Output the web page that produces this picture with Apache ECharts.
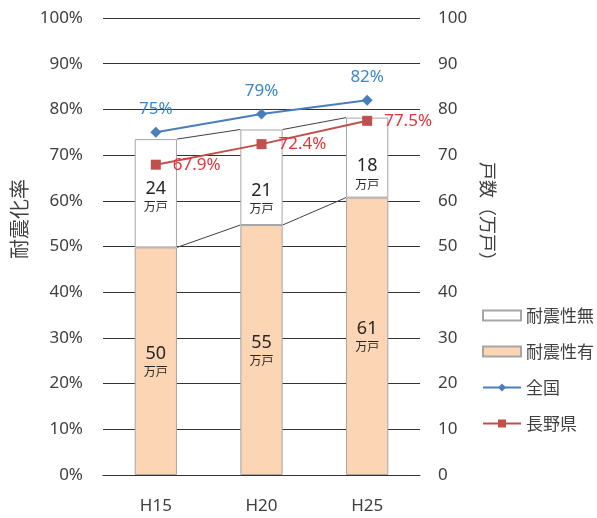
<!DOCTYPE html>
<html>
<head>
<meta charset="utf-8">
<script src="https://cdn.jsdelivr.net/npm/echarts@6/dist/echarts.min.js"></script>
<style>
html,body{margin:0;padding:0;background:#fff;}
#chart{width:597px;height:518px;}
</style>
</head>
<body>
<div id="chart"></div>
<script>
// ---- data ----
const categories = ['H15', 'H20', 'H25'];
const withResistance = [49.8, 54.7, 60.7];      // 耐震性有 (万戸)
const withoutResistance = [23.7, 20.9, 17.5];   // 耐震性無 (万戸)
const nationalRate = [75, 79, 82];              // 全国 (%)
const naganoRate = [67.9, 72.4, 77.5];          // 長野県 (%)
const leftTicks = [0, 10, 20, 30, 40, 50, 60, 70, 80, 90, 100];

const FONT = "'Noto Sans', 'Noto Sans CJK JP', sans-serif";
const TEXT = '#404040';

// cumulative values for the Excel-like series lines between bars
const connectorData = [];
for (let i = 0; i < categories.length - 1; i++) {
  connectorData.push([
    i,
    withResistance[i], withResistance[i + 1],
    withResistance[i] + withoutResistance[i], withResistance[i + 1] + withoutResistance[i + 1]
  ]);
}

const topLabelOffsets = [[0, 3], [0, 21], [0, 16]];

const barLabel = {
  show: true,
  position: 'inside',
  fontFamily: FONT,
  formatter: p => '{n|' + Math.round(p.value) + '}\n{u|万戸}',
  rich: {
    n: { fontSize: 18, color: '#262626', fontFamily: FONT, lineHeight: 21 },
    u: { fontSize: 12, color: '#262626', fontFamily: "'Noto Sans CJK JP', sans-serif", lineHeight: 15 }
  }
};

const chart = echarts.init(document.getElementById('chart'), null, { renderer: 'canvas' });
chart.setOption({
  animation: false,
  backgroundColor: '#fff',
  textStyle: { fontFamily: FONT },
  grid: { left: 103, right: 177, top: 18, bottom: 43 },
  legend: {
    orient: 'vertical',
    left: 477,
    top: 299,
    itemWidth: 38,
    itemHeight: 10,
    itemGap: 13,
    textStyle: { fontSize: 17, color: TEXT, fontFamily: "'Noto Sans CJK JP', sans-serif", lineHeight: 23 },
    data: [
      { name: '耐震性無', icon: 'rect' },
      { name: '耐震性有', icon: 'rect' },
      { name: '全国' },
      { name: '長野県' }
    ]
  },
  xAxis: {
    type: 'category',
    data: categories,
    axisLine: { show: true, lineStyle: { color: '#333' } },
    axisTick: { show: false },
    axisLabel: { fontSize: 17, color: TEXT, margin: 23, fontFamily: FONT }
  },
  yAxis: [
    {
      type: 'value', min: leftTicks[0], max: leftTicks[leftTicks.length - 1], interval: 10,
      axisLine: { show: false }, axisTick: { show: false },
      axisLabel: { formatter: '{value}%', fontSize: 17, color: TEXT, margin: 20, fontFamily: FONT },
      splitLine: { show: true, lineStyle: { color: '#333', width: 1 } }
    },
    {
      type: 'value', min: 0, max: 100, interval: 10,
      axisLine: { show: false }, axisTick: { show: false },
      axisLabel: { fontSize: 17, color: TEXT, margin: 18, fontFamily: FONT },
      splitLine: { show: false }
    }
  ],
  graphic: [
    {
      type: 'text', x: 19, y: 219, rotation: Math.PI / 2,
      style: { text: '耐震化率', font: "20px 'Noto Sans CJK JP'", fill: TEXT, textAlign: 'center', textVerticalAlign: 'middle' }
    },
    {
      type: 'text', x: 488, y: 216, rotation: -Math.PI / 2,
      style: { text: '戸数（万戸）', font: "18px 'Noto Sans CJK JP'", fill: TEXT, textAlign: 'center', textVerticalAlign: 'middle' }
    }
  ],
  series: [
    {
      name: '耐震性有', type: 'bar', stack: 'houses', yAxisIndex: 1, barWidth: '40%',
      itemStyle: { color: '#FCD5B4', borderColor: '#A6A6A6', borderWidth: 1 },
      label: barLabel,
      data: withResistance, z: 2
    },
    {
      name: '耐震性無', type: 'bar', stack: 'houses', yAxisIndex: 1, barWidth: '40%',
      itemStyle: { color: '#FFFFFF', borderColor: '#A6A6A6', borderWidth: 1 },
      label: barLabel,
      data: withoutResistance.map((v, i) => ({ value: v, label: { offset: topLabelOffsets[i] } })), z: 2
    },
    {
      name: 'connectors', type: 'custom', yAxisIndex: 1, z: 3, silent: true,
      renderItem: function (params, api) {
        const i = api.value(0);
        const band = api.size([1, 0])[0];
        const half = band * 0.2;
        const a1 = api.coord([i, api.value(1)]);
        const a2 = api.coord([i + 1, api.value(2)]);
        const b1 = api.coord([i, api.value(3)]);
        const b2 = api.coord([i + 1, api.value(4)]);
        const st = { stroke: '#404040', lineWidth: 1 };
        return {
          type: 'group',
          children: [
            { type: 'line', shape: { x1: a1[0] + half, y1: a1[1], x2: a2[0] - half, y2: a2[1] }, style: st },
            { type: 'line', shape: { x1: b1[0] + half, y1: b1[1], x2: b2[0] - half, y2: b2[1] }, style: st }
          ]
        };
      },
      encode: { x: 0, y: [1, 2, 3, 4] },
      data: connectorData
    },
    {
      name: '全国', type: 'line', yAxisIndex: 0, z: 5,
      symbol: 'diamond', symbolSize: 11,
      lineStyle: { color: '#4A7EBB', width: 2 },
      itemStyle: { color: '#4A7EBB' },
      label: { show: true, position: 'top', distance: 9, formatter: '{c}%', fontSize: 17, color: '#3A87C8', fontFamily: FONT },
      data: nationalRate
    },
    {
      name: '長野県', type: 'line', yAxisIndex: 0, z: 5,
      symbol: 'rect', symbolSize: 10,
      lineStyle: { color: '#C0504D', width: 2 },
      itemStyle: { color: '#C0504D' },
      label: { show: true, position: 'right', distance: 12, formatter: '{c}%', fontSize: 17, color: '#E0353A', fontFamily: FONT },
      data: naganoRate
    }
  ]
});
</script>
</body>
</html>
